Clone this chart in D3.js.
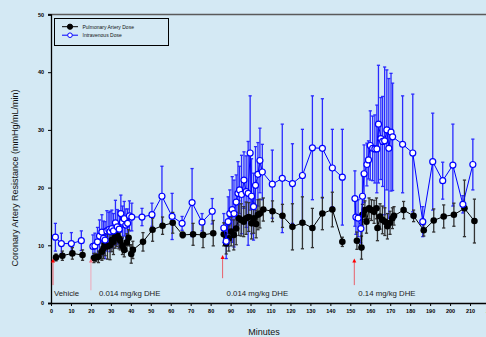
<!DOCTYPE html>
<html><head><meta charset="utf-8">
<script src="https://cdn.jsdelivr.net/npm/d3@7"></script>
<style>
html,body{margin:0;padding:0;background:#d4e9f4;overflow:hidden;}
svg{display:block;font-family:"Liberation Sans",Arial,sans-serif;}
</style></head>
<body><svg id="c" width="486" height="337"></svg>
<script>
// [minutes, mean, SEM]
const pulmonaryDose = [
 [2.5,7.9,0.6],[5.7,8.2,0.8],[10.7,8.6,1.0],[15.8,8.3,0.9],
 [21.5,7.8,0.8],[22.5,7.9,0.7],[23.8,8.0,1.0],[25.5,8.9,1.5],[26.3,9.5,1.8],[27.1,10.2,2.0],
 [28.3,9.8,2.2],[29.6,10.0,2.5],[30.5,10.9,2.0],[31.3,10.6,2.2],[32.2,11.5,2.0],[33.0,11.8,2.0],
 [34.0,11.2,1.8],[34.7,10.8,1.6],[35.8,9.9,1.5],[36.7,9.2,1.2],[38.0,10.5,1.5],[38.9,11.3,1.4],
 [40.2,8.5,1.6],[41.0,9.2,1.5],[46.1,10.6,1.6],[50.9,12.7,2.0],[55.9,13.4,1.5],[61.0,13.9,1.8],
 [66.0,11.8,0.5],[71.2,11.9,1.9],[76.2,11.8,2.2],[81.3,12.1,2.2],
 [86.6,11.9,2.0],[87.8,10.3,1.8],[89.1,11.2,2.2],[90.3,12.4,2.5],[91.6,11.8,2.6],[92.8,12.9,2.8],
 [94.1,14.7,3.0],[95.3,14.4,2.8],[96.6,14.1,2.6],[97.8,14.7,2.8],[99.1,14.9,2.5],[100.5,13.8,2.7],
 [101.6,14.7,2.6],[102.8,13.7,2.4],[103.7,15.3,2.6],[104.7,15.5,2.5],[106.4,16.2,2.0],
 [111.0,15.9,1.8],[116.0,15.1,2.0],[121.0,13.2,4.0],[126.0,13.9,4.5],[131.0,13.0,3.4],
 [136.0,15.5,2.8],[141.0,16.2,3.0],[146.0,10.6,0.8],
 [153.3,10.8,1.5],[155.6,9.6,2.0],[156.1,15.3,1.8],[157.3,16.1,1.6],[158.1,14.1,2.0],[159.4,16.4,1.8],
 [160.6,16.1,1.8],[161.9,15.8,2.0],[163.1,16.4,1.8],[163.6,13.0,2.2],[164.9,15.0,2.2],[166.1,14.4,2.4],
 [167.3,14.1,2.4],[168.6,13.3,2.2],[169.9,13.9,2.0],[171.1,14.7,1.8],[171.9,15.1,1.6],
 [176.7,16.1,1.5],[181.7,15.1,1.0],[186.8,12.6,1.0],[191.8,14.3,2.0],[196.8,15.0,2.0],
 [201.9,15.3,2.0],[207.2,16.4,4.9],[212.2,14.2,3.8]
];
const intravenousDose = [
 [2.2,11.4,2.4],[5.2,10.3,1.8],[10.2,10.3,1.9],[15.2,10.8,1.7],
 [21.0,9.8,2.0],[22.0,9.9,2.2],[23.3,10.6,2.5],[24.3,11.6,2.8],[25.5,12.3,3.0],[26.3,11.2,3.0],
 [27.1,10.9,3.2],[28.0,12.5,3.5],[29.0,12.7,3.0],[29.6,12.4,3.5],[30.5,12.9,3.2],[31.3,12.5,3.0],
 [32.3,13.9,3.9],[33.2,13.2,3.0],[34.2,12.8,3.2],[35.0,15.5,3.2],[35.8,14.0,2.8],[36.7,14.6,3.0],
 [37.5,13.5,2.8],[38.4,13.8,2.5],[39.3,15.1,2.6],[40.5,14.9,2.4],[45.6,14.9,1.5],[50.6,15.3,2.0],
 [55.6,18.5,5.2],[60.7,15.0,4.0],[65.7,13.8,1.2],[70.7,17.4,5.9],[75.7,14.0,1.5],[80.8,15.9,2.2],
 [86.6,13.0,2.5],[87.8,10.7,3.0],[88.8,14.1,4.3],[89.6,15.5,4.1],[90.8,16.2,5.7],[91.7,15.5,5.8],
 [92.8,17.5,4.7],[93.7,19.0,5.5],[94.5,19.6,4.1],[95.5,18.8,6.8],[96.7,21.3,4.9],[97.8,19.3,6.2],
 [98.8,19.0,9.0],[99.8,26.0,9.9],[100.5,18.5,6.5],[101.5,16.7,5.8],[102.5,20.4,6.7],[103.7,22.3,5.5],
 [104.7,24.7,5.6],[105.9,22.7,4.8],[110.9,20.6,5.9],[115.9,21.6,9.4],[121.0,20.7,6.9],
 [126.0,22.1,8.0],[131.0,26.9,9.0],[136.0,26.8,8.6],[141.0,23.4,6.7],[146.0,21.8,8.3],
 [152.3,18.1,4.8],[152.8,14.9,3.0],[153.9,14.7,3.2],[155.3,12.9,2.5],[156.1,18.5,4.0],[156.9,22.4,5.0],
 [158.3,24.0,3.7],[159.1,24.8,3.3],[160.0,27.3,6.0],[161.2,26.8,5.6],[162.3,26.7,5.9],[163.3,26.7,7.6],
 [164.1,31.0,10.2],[165.3,28.5,7.1],[166.2,28.0,7.8],[167.2,28.1,12.8],[168.3,30.0,10.4],
 [169.3,26.8,12.1],[170.4,29.6,10.2],[171.2,28.8,9.3],[176.2,27.5,8.4],[181.3,26.0,10.2],
 [186.3,14.1,2.6],[191.3,24.5,8.4],[196.3,21.2,3.2],[201.4,23.9,7.1],[206.4,17.1,1.5],[211.4,24.0,4.4]
];
const yTicks = [0,10,20,30,40,50];
const xTicks = [0,10,20,30,40,50,60,70,80,90,100,110,120,130,140,150,160,170,180,190,200,210,220];
const doseArrows = [1, 20, 86, 152];
const doseLabels = [
 {t:1.5, text:"Vehicle"},
 {t:24, text:"0.014 mg/kg DHE"},
 {t:88, text:"0.014 mg/kg DHE"},
 {t:154, text:"0.14 mg/kg DHE"}
];
const legendItems = ["Pulmonary Artery Dose","Intravenous Dose"];

const svg = d3.select("#c");
const x = d3.scaleLinear().domain([0,220]).range([51,490]);
const y = d3.scaleLinear().domain([0,50]).range([303,14.5]);

// frame top
svg.append("line").attr("x1",48).attr("x2",486).attr("y1",y(50)).attr("y2",y(50))
  .attr("stroke","#5a5a5a").attr("stroke-width",1.5);

// axes
const yAxis = d3.axisLeft(y).tickValues(yTicks).tickSize(3).tickPadding(4).tickFormat(d3.format("d"));
const gy = svg.append("g").attr("transform","translate(51,0)").call(yAxis);
const xAxis = d3.axisBottom(x).tickValues(xTicks).tickSize(3).tickPadding(3).tickFormat(d3.format("d"));
const gx = svg.append("g").attr("transform","translate(0,303)").call(xAxis);
[gx,gy].forEach(g=>{
  g.select(".domain").attr("stroke","#000").attr("stroke-width",1.3);
  g.selectAll(".tick line").attr("stroke","#000").attr("stroke-width",1);
  g.selectAll(".tick text").attr("font-size",5.5).attr("font-weight","bold").attr("fill","#000")
    .attr("font-family","'Liberation Sans',Arial,sans-serif");
});
gx.select(".domain").attr("d","M48,0.5H490");

// axis titles
svg.append("text").attr("x",264).attr("y",335).attr("text-anchor","middle")
  .attr("font-size",9).attr("fill","#111").text("Minutes");
svg.append("text").attr("transform","translate(18,178) rotate(-90)").attr("text-anchor","middle")
  .attr("font-size",9).attr("fill","#111").text("Coronary Artery Resistance (mmHg/mL/min)");

// error bars
function errBars(data, color, width){
  const g = svg.append("g").attr("stroke",color).attr("stroke-width",width);
  data.forEach(d=>{
    const cx = x(d[0]);
    g.append("line").attr("x1",cx).attr("x2",cx).attr("y1",y(d[1]-d[2])).attr("y2",y(d[1]+d[2]));
    [d[1]-d[2], d[1]+d[2]].forEach(v=>{
      g.append("line").attr("x1",cx-1.6).attr("x2",cx+1.6).attr("y1",y(v)).attr("y2",y(v));
    });
  });
}
errBars(intravenousDose,"#2a2aff",1.3);
errBars(pulmonaryDose,"#333",1.3);

const line = d3.line().x(d=>x(d[0])).y(d=>y(d[1]));
function segs(data){ // break lines between dose phases
  const out=[[]];
  data.forEach((d,i)=>{
    if(i>0 && doseArrows.some(a=>data[i-1][0]<a && d[0]>a)) out.push([]);
    out[out.length-1].push(d);
  });
  return out;
}
segs(pulmonaryDose).forEach(s=>svg.append("path").attr("d",line(s)).attr("fill","none")
  .attr("stroke","#000").attr("stroke-width",1));
svg.append("g").selectAll("circle").data(pulmonaryDose).join("circle")
  .attr("cx",d=>x(d[0])).attr("cy",d=>y(d[1])).attr("r",3.3).attr("fill","#000");
segs(intravenousDose).forEach(s=>svg.append("path").attr("d",line(s)).attr("fill","none")
  .attr("stroke","#0000ff").attr("stroke-width",1));
svg.append("g").selectAll("circle").data(intravenousDose).join("circle")
  .attr("cx",d=>x(d[0])).attr("cy",d=>y(d[1])).attr("r",3).attr("fill","#fff")
  .attr("stroke","#0000ff").attr("stroke-width",1.2);

// dose arrows
const arrowCol = ["#e8606a","#f0a8b8","#e8606a","#e8606a"];
doseArrows.forEach((t,i)=>{
  const ax = x(t);
  const y0 = i===1 ? y(2.2) : (i===2 ? y(4.3) : y(3.1));
  const y1 = i===2 ? y(8.3) : y(7.7);
  svg.append("line").attr("x1",ax).attr("x2",ax).attr("y1",y0).attr("y2",y1+3)
    .attr("stroke",arrowCol[i]).attr("stroke-width",1);
  svg.append("path").attr("d",`M${ax-2},${y1+4}L${ax},${y1}L${ax+2},${y1+4}Z`)
    .attr("fill", i===1 ? "#f07080" : "#ff0000");
});
doseLabels.forEach(d=>{
  svg.append("text").attr("x",x(d.t)).attr("y",296).attr("font-size",7.8).attr("fill","#222").text(d.text);
});

// legend
const lg = svg.append("g");
lg.append("rect").attr("x",54.5).attr("y",18.5).attr("width",114).attr("height",27)
  .attr("fill","none").attr("stroke","#000").attr("stroke-width",1);
legendItems.forEach((t,i)=>{
  const ly = 26.7 + i*8.5;
  const col = i===0 ? "#000" : "#0000ff";
  lg.append("line").attr("x1",62).attr("x2",78).attr("y1",ly).attr("y2",ly).attr("stroke",col).attr("stroke-width",1);
  lg.append("circle").attr("cx",70).attr("cy",ly).attr("r",i===0?2.6:2.3)
    .attr("fill",i===0?"#000":"#fff").attr("stroke",col).attr("stroke-width",1);
  lg.append("text").attr("x",82.5).attr("y",ly+1.8).attr("font-size",5).attr("fill","#111").text(t);
});
</script></body></html>
